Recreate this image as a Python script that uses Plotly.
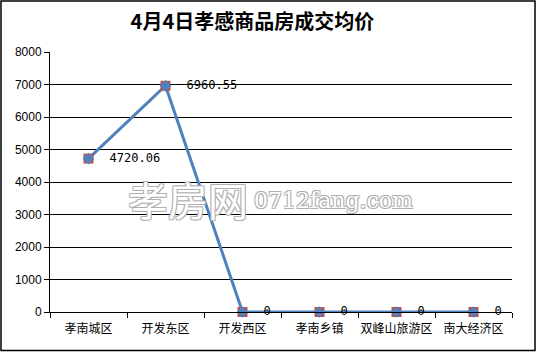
import plotly.graph_objects as go

categories = ["孝南城区", "开发东区", "开发西区", "孝南乡镇", "双峰山旅游区", "南大经济区"]
prices = [4720.06, 6960.55, 0, 0, 0, 0]
labels = ["4720.06", "6960.55", "0", "0", "0", "0"]
y_ticks = [0, 1000, 2000, 3000, 4000, 5000, 6000, 7000, 8000]

fig = go.Figure()
fig.add_trace(go.Scatter(
    x=categories, y=prices, mode="lines+markers",
    line=dict(color="#4F81BD", width=3),
    marker=dict(symbol="square", size=10, color="#C0504D"),
    hoverinfo="skip", cliponaxis=False,
))
fig.add_trace(go.Scatter(
    x=categories, y=prices, mode="markers+text",
    marker=dict(symbol="diamond", size=9, color="#4F81BD"),
    text=["  " + t for t in labels], textposition="middle right",
    textfont=dict(family="DejaVu Sans Mono", size=12, color="black"),
    cliponaxis=False,
))

fig.update_layout(
    width=537, height=352,
    margin=dict(l=50, r=25, t=52, b=40, autoexpand=False),
    paper_bgcolor="white", plot_bgcolor="white",
    showlegend=False,
    title=dict(text="<b>4月4日孝感商品房成交均价</b>", x=0.47, xanchor="center",
               y=0.937, yanchor="middle",
               font=dict(family="Noto Sans CJK SC", size=20, color="black")),
    xaxis=dict(
        type="category", showgrid=False, showline=True, linecolor="black", linewidth=1,
        ticks="outside", tickson="boundaries", ticklen=5, tickcolor="black",
        tickangle=0, automargin=False, ticklabelstandoff=6,
        tickfont=dict(family="Noto Sans CJK SC", size=12, color="black"),
        range=[-0.5, 5.5],
    ),
    yaxis=dict(
        range=[0, 8000], tickvals=y_ticks, showgrid=True, gridcolor="black", gridwidth=1,
        showline=True, linecolor="black", linewidth=1, ticks="outside", ticklen=5,
        tickcolor="black", zeroline=False, automargin=False,
        tickfont=dict(family="Liberation Sans", size=12, color="black"),
    ),
)

# watermark
shadow = "1px 1px 0 #b0b0b0, -1px -1px 0 #b0b0b0, 1px -1px 0 #b0b0b0, -1px 1px 0 #b0b0b0"
fig.add_annotation(text="孝房网", xref="paper", yref="paper", x=(126 - 50) / 462, y=(312 - 199) / 260,
                   xanchor="left", yanchor="middle", showarrow=False,
                   font=dict(family="Noto Sans CJK SC", size=40, color="white", shadow=shadow))
fig.add_annotation(text="0712fang.com", xref="paper", yref="paper", x=(252 - 50) / 462, y=(312 - 200) / 260,
                   xanchor="left", yanchor="middle", showarrow=False,
                   font=dict(family="DejaVu Serif", size=22, color="white", shadow=shadow))

fig.add_shape(type="rect", xref="paper", yref="paper", x0=-49 / 462, x1=(537 - 50 - 2) / 462,
              y0=-38.5 / 260, y1=(312 - 1) / 260, line=dict(color="black", width=1.5))

fig.write_html("out.html")
